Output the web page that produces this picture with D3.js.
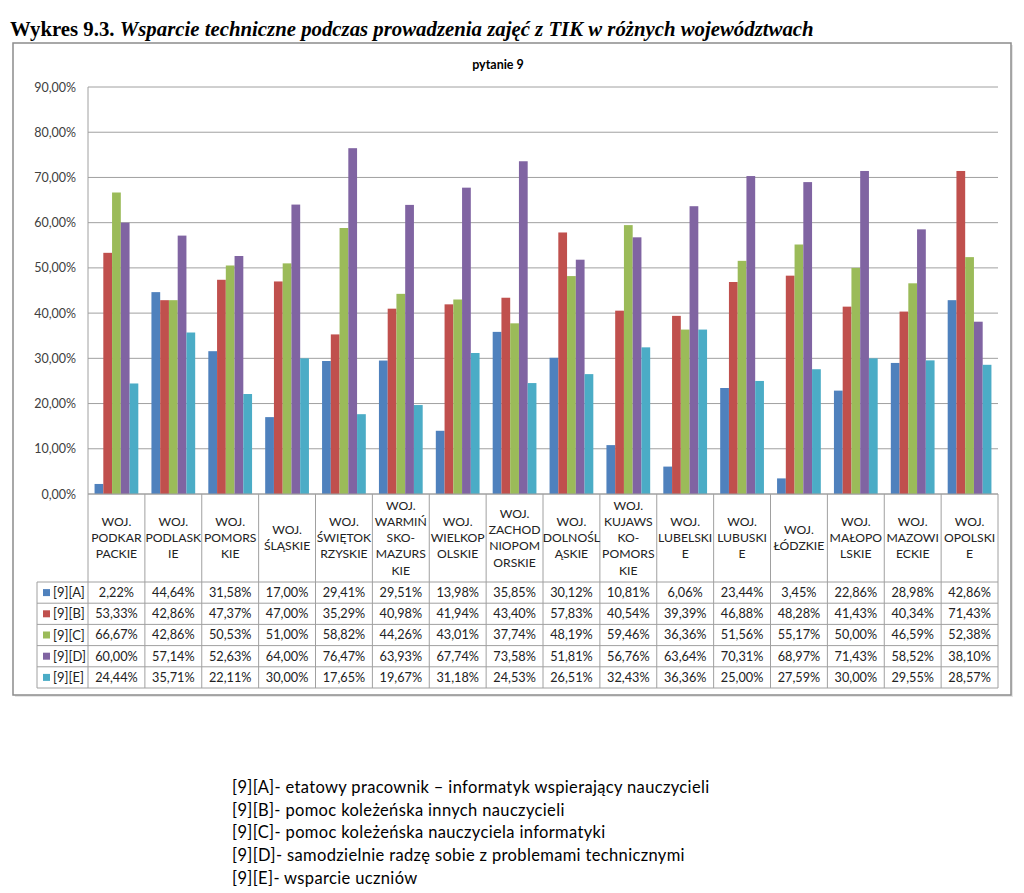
<!DOCTYPE html>
<html><head><meta charset="utf-8">
<script src="https://cdn.jsdelivr.net/npm/d3@7"></script>
<style>
body{margin:0;background:#fff;}
svg{display:block;}
</style>
</head><body>
<svg id="c" width="1024" height="893"></svg>
<script>
const categories = [
 ["WOJ.","PODKAR","PACKIE"], ["WOJ.","PODLASK","IE"], ["WOJ.","POMORS","KIE"], ["WOJ.","ŚLĄSKIE"],
 ["WOJ.","ŚWIĘTOK","RZYSKIE"], ["WOJ.","WARMIŃ","SKO-","MAZURS","KIE"], ["WOJ.","WIELKOP","OLSKIE"],
 ["WOJ.","ZACHOD","NIOPOM","ORSKIE"], ["WOJ.","DOLNOŚL","ĄSKIE"], ["WOJ.","KUJAWS","KO-","POMORS","KIE"],
 ["WOJ.","LUBELSKI","E"], ["WOJ.","LUBUSKI","E"], ["WOJ.","ŁÓDZKIE"], ["WOJ.","MAŁOPO","LSKIE"],
 ["WOJ.","MAZOWI","ECKIE"], ["WOJ.","OPOLSKI","E"]
];
const seriesNames = ["[9][A]","[9][B]","[9][C]","[9][D]","[9][E]"];
const seriesA = [2.22,44.64,31.58,17.00,29.41,29.51,13.98,35.85,30.12,10.81,6.06,23.44,3.45,22.86,28.98,42.86];
const seriesB = [53.33,42.86,47.37,47.00,35.29,40.98,41.94,43.40,57.83,40.54,39.39,46.88,48.28,41.43,40.34,71.43];
const seriesC = [66.67,42.86,50.53,51.00,58.82,44.26,43.01,37.74,48.19,59.46,36.36,51.56,55.17,50.00,46.59,52.38];
const seriesD = [60.00,57.14,52.63,64.00,76.47,63.93,67.74,73.58,51.81,56.76,63.64,70.31,68.97,71.43,58.52,38.10];
const seriesE = [24.44,35.71,22.11,30.00,17.65,19.67,31.18,24.53,26.51,32.43,36.36,25.00,27.59,30.00,29.55,28.57];
const yTicks = [0,10,20,30,40,50,60,70,80,90];
const colors = ["#4F81BD","#C0504D","#9BBB59","#8064A2","#4BACC6"];
const legendLines = [
 "[9][A]- etatowy pracownik \u2013 informatyk wspierający nauczycieli",
 "[9][B]- pomoc koleżeńska innych nauczycieli",
 "[9][C]- pomoc koleżeńska nauczyciela informatyki",
 "[9][D]- samodzielnie radzę sobie z problemami technicznymi",
 "[9][E]- wsparcie uczniów"
];
const allSeries = [seriesA, seriesB, seriesC, seriesD, seriesE];

(function () {
const svg = d3.select("#c");
const sans = "Lato, 'Open Sans', sans-serif";
const fmt = v => d3.format(".2f")(v).replace(".", ",") + "%";

// Title
const t = svg.append("text").attr("x", 10).attr("y", 36)
  .attr("font-family", "'Liberation Serif', 'Times New Roman', serif")
  .attr("font-size", 20.8).attr("font-weight", "bold").attr("fill", "#000");
t.append("tspan").text("Wykres 9.3. ");
t.append("tspan").attr("font-style", "italic").text("Wsparcie techniczne podczas prowadzenia zajęć z TIK w różnych województwach");

// Frame
svg.append("rect").attr("x", 15).attr("y", 45).attr("width", 998).attr("height", 652).attr("fill", "#e6e6e6");
svg.append("rect").attr("x", 13).attr("y", 43).attr("width", 998).attr("height", 652)
  .attr("fill", "#fff").attr("stroke", "#8c8c8c").attr("stroke-width", 1.5);

svg.append("text").attr("x", 498).attr("y", 69).attr("text-anchor", "middle")
  .attr("font-family", sans).attr("font-size", 12.5).attr("font-weight", "bold").attr("fill", "#000")
  .text("pytanie 9");

const pLeft = 88, pRight = 998, pTop = 87, pBottom = 494;
const x = d3.scaleBand().domain(d3.range(categories.length)).range([pLeft, pRight]).paddingInner(0).paddingOuter(0);
const y = d3.scaleLinear().domain([0, 90]).range([pBottom, pTop]);
const cw = x.bandwidth();
const bw = cw / 6.5;
const xs = d3.scaleBand().domain(d3.range(5)).range([0, bw * 5]);

// gridlines
svg.append("g").selectAll("line").data(yTicks).join("line")
  .attr("x1", pLeft).attr("x2", pRight).attr("y1", d => y(d)).attr("y2", d => y(d))
  .attr("stroke", "#a0a0a0").attr("stroke-width", 1);

// y axis labels
const yAxis = d3.axisLeft(y).tickValues(yTicks).tickSize(0).tickPadding(12)
  .tickFormat(d => d3.format(".2f")(d).replace(".", ",") + "%");
const ga = svg.append("g").attr("transform", `translate(${pLeft},0)`).call(yAxis);
ga.select(".domain").remove();
ga.selectAll("text").attr("font-family", sans).attr("font-size", 12.5).attr("fill", "#404040");

// bars
allSeries.forEach((s, si) => {
  svg.append("g").selectAll("rect").data(s).join("rect")
    .attr("x", (d, i) => x(i) + (cw - bw * 5) / 2 + xs(si))
    .attr("width", bw)
    .attr("y", d => y(d)).attr("height", d => pBottom - y(d))
    .attr("fill", colors[si]);
});

// Table
const rowH = 21.2, tableTop = 582, tableLeft = 37;
const gridC = "#a0a0a0";
const tg = svg.append("g");
const vx = d3.range(categories.length + 1).map(i => i < categories.length ? x(i) : pRight);
tg.selectAll("line.v").data(vx).join("line")
  .attr("x1", d => d).attr("x2", d => d).attr("y1", pBottom).attr("y2", tableTop + rowH * 5)
  .attr("stroke", gridC);
svg.append("line").attr("x1", pLeft).attr("x2", pLeft).attr("y1", pTop).attr("y2", pBottom).attr("stroke", gridC);
const hg = svg.append("g");
hg.selectAll("line").data(d3.range(6)).join("line")
  .attr("x1", tableLeft).attr("x2", pRight)
  .attr("y1", d => tableTop + d * rowH).attr("y2", d => tableTop + d * rowH).attr("stroke", gridC);
svg.append("line").attr("x1", tableLeft).attr("x2", tableLeft).attr("y1", tableTop).attr("y2", tableTop + rowH * 5).attr("stroke", gridC);
svg.append("line").attr("x1", pLeft).attr("x2", pRight).attr("y1", pBottom).attr("y2", pBottom).attr("stroke", gridC);

// header labels
categories.forEach((lines, i) => {
  const cx = x(i) + cw / 2;
  const lh = 16.2;
  const cy = (pBottom + tableTop) / 2;
  const y0 = cy - (lines.length - 1) * lh / 2;
  const txt = svg.append("text").attr("text-anchor", "middle")
    .attr("font-family", sans).attr("font-size", 12.2).attr("fill", "#222");
  lines.forEach((l, k) => {
    txt.append("tspan").attr("x", cx).attr("y", y0 + k * lh).attr("dy", "0.35em").text(l);
  });
});

// legend column and values
allSeries.forEach((s, si) => {
  const ry = tableTop + si * rowH + rowH / 2;
  svg.append("rect").attr("x", 43).attr("y", ry - 3.5).attr("width", 7).attr("height", 7).attr("fill", colors[si]);
  svg.append("text").attr("x", 53).attr("y", ry).attr("dy", "0.35em")
    .attr("font-family", sans).attr("font-size", 13).attr("fill", "#222").text(seriesNames[si]);
  svg.append("g").selectAll("text").data(s).join("text")
    .attr("x", (d, i) => x(i) + cw / 2).attr("y", ry).attr("dy", "0.35em").attr("text-anchor", "middle")
    .attr("font-family", sans).attr("font-size", 12.7).attr("fill", "#222").text(d => fmt(d));
});

// legend below
svg.append("g").selectAll("text").data(legendLines).join("text")
  .attr("x", 232).attr("y", (d, i) => 787 + i * 22.8).attr("dy", "0.35em")
  .attr("font-family", sans).attr("font-size", 16.5).attr("letter-spacing", 0.35)
  .attr("fill", "#000").text(d => d);
})();
</script>
</body></html>
